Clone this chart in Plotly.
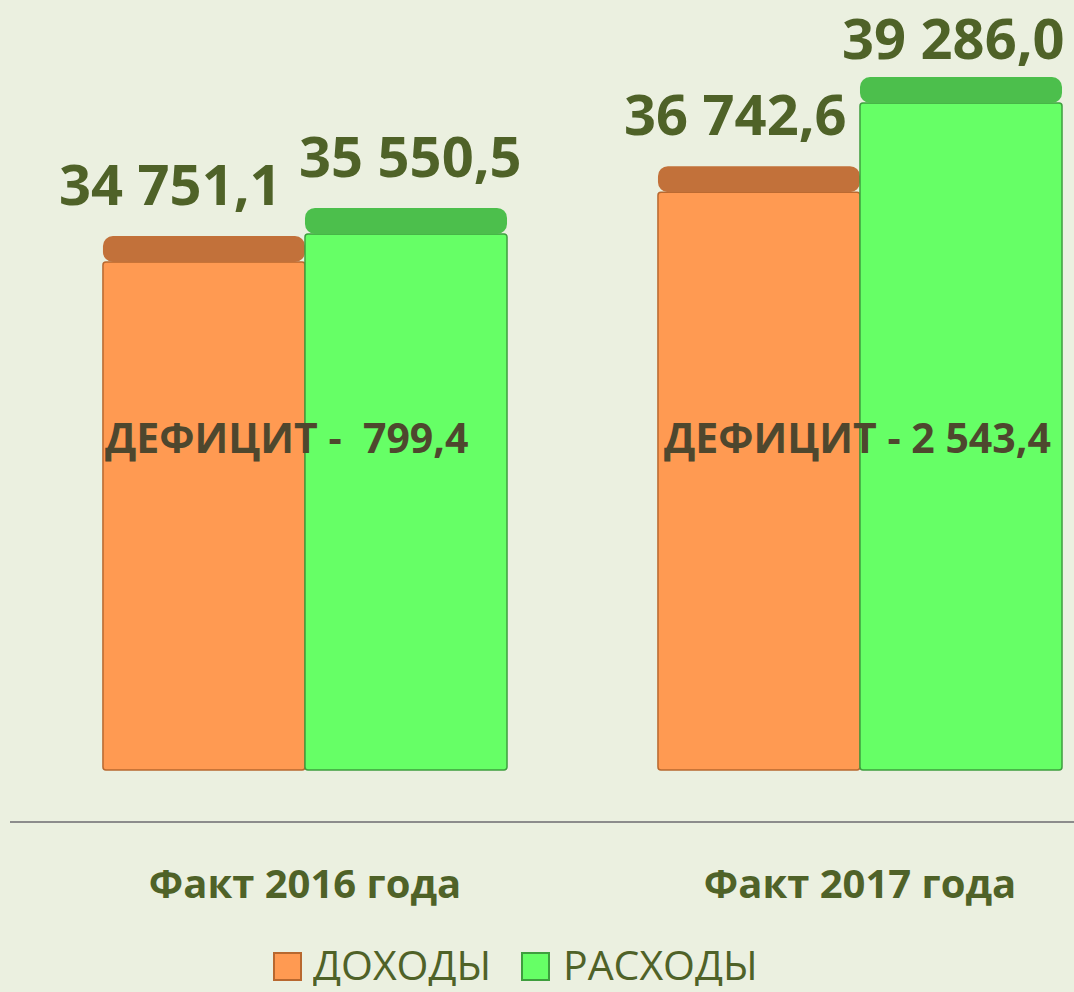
import plotly.graph_objects as go

# ---------------- data ----------------
categories = ["Факт 2016 года", "Факт 2017 года"]
series_names = ["ДОХОДЫ", "РАСХОДЫ"]
income = [34751.1, 36742.6]
expense = [35550.5, 39286.0]

# ---------------- style / layout ----------------
W, H = 1074, 992
ML, MR, MT, MB = 10, 0, 0, 171
Y_RANGE = [18806, 42223]
BAR_BASE = 20261
X_RANGE = [-0.5315, 1.3856]
BARGAP = 0.272

BG = "#EBF0E0"
TXT = "#4F6228"
DEF_TXT = "#4E472E"
FRONT = ["#FF9A52", "#66FF66"]
TOPF = ["#C2713A", "#4CBF4C"]
EDGE = ["#B8682F", "#3E9E3E"]
FONT = "Open Sans"

plot_w = W - ML - MR
plot_h = H - MT - MB
units_per_px = (Y_RANGE[1] - Y_RANGE[0]) / plot_h
DEPTH = 26 * units_per_px  # visual thickness of bar top face

LABEL_XSHIFT = [[-33, -23], [4, -8]]   # [series][category]
LABEL_YSHIFT = [[13, 13], [13, 0]]     # [series][category]


def fmt(v):
    return f"{v:,.1f}".replace(",", " ").replace(".", ",")


fig = go.Figure()
all_series = [income, expense]
for s, vals in enumerate(all_series):
    fig.add_trace(go.Bar(
        x=categories, y=[v - BAR_BASE for v in vals], base=BAR_BASE,
        offsetgroup=str(s), name=series_names[s], showlegend=False,
        marker=dict(color=FRONT[s], line=dict(color=EDGE[s], width=1.5), cornerradius=3),
        hoverinfo="skip",
    ))
    fig.add_trace(go.Bar(
        x=categories, y=[DEPTH] * len(vals), base=vals,
        offsetgroup=str(s), showlegend=False,
        marker=dict(color=TOPF[s], line=dict(width=0), cornerradius=10),
        hoverinfo="skip",
    ))

off = (1 - BARGAP) / 4
annotations = []
for s, vals in enumerate(all_series):
    for i, v in enumerate(vals):
        annotations.append(dict(
            x=i + (-off if s == 0 else off), y=v + DEPTH, xref="x", yref="y",
            text=fmt(v), showarrow=False, yanchor="bottom",
            xshift=LABEL_XSHIFT[s][i], yshift=LABEL_YSHIFT[s][i],
            font=dict(family=FONT, size=56, color=TXT, weight="bold"),
        ))

# deficit labels
DEF_XSHIFT = [-18, -2]
for i in range(len(categories)):
    d = expense[i] - income[i]
    txt = fmt(d)
    sep = " -&nbsp; " if len(txt) < 6 else " - "
    annotations.append(dict(
        x=i, y=(821 - 437) / plot_h, xref="x", yref="paper",
        text="ДЕФИЦИТ" + sep + txt, showarrow=False,
        xshift=DEF_XSHIFT[i],
        font=dict(family=FONT, size=41, color=DEF_TXT, weight="bold"),
    ))


def px_x(px):
    return (px - ML) / plot_w


def px_y(py):
    return (H - MB - py) / plot_h


# custom legend
shapes = []
leg_items = [(274, 311), (522, 561)]
for s, (sq_x, tx_x) in enumerate(leg_items):
    shapes.append(dict(
        type="rect", xref="paper", yref="paper",
        x0=px_x(sq_x), x1=px_x(sq_x + 27), y0=px_y(980), y1=px_y(953),
        fillcolor=FRONT[s], line=dict(color=EDGE[s], width=2),
    ))
    annotations.append(dict(
        x=px_x(tx_x), y=px_y(964), xref="paper", yref="paper",
        text=series_names[s], showarrow=False, xanchor="left", yanchor="middle",
        height=44, valign="middle",
        font=dict(family=FONT, size=41, color=TXT),
    ))

fig.update_layout(
    width=W, height=H,
    margin=dict(l=ML, r=MR, t=MT, b=MB, pad=0),
    paper_bgcolor=BG, plot_bgcolor=BG,
    barmode="group", bargap=BARGAP, bargroupgap=0,
    annotations=annotations, shapes=shapes,
    showlegend=False,
    xaxis=dict(
        type="category", range=X_RANGE, showline=True, linecolor="#8C8C8C",
        linewidth=2, ticks="", showgrid=False, zeroline=False,
        tickfont=dict(family=FONT, size=40, color=TXT, weight="bold"),
        ticklabelstandoff=27,
    ),
    yaxis=dict(range=Y_RANGE, visible=False, showgrid=False, zeroline=False),
)

fig.write_html("out.html")
